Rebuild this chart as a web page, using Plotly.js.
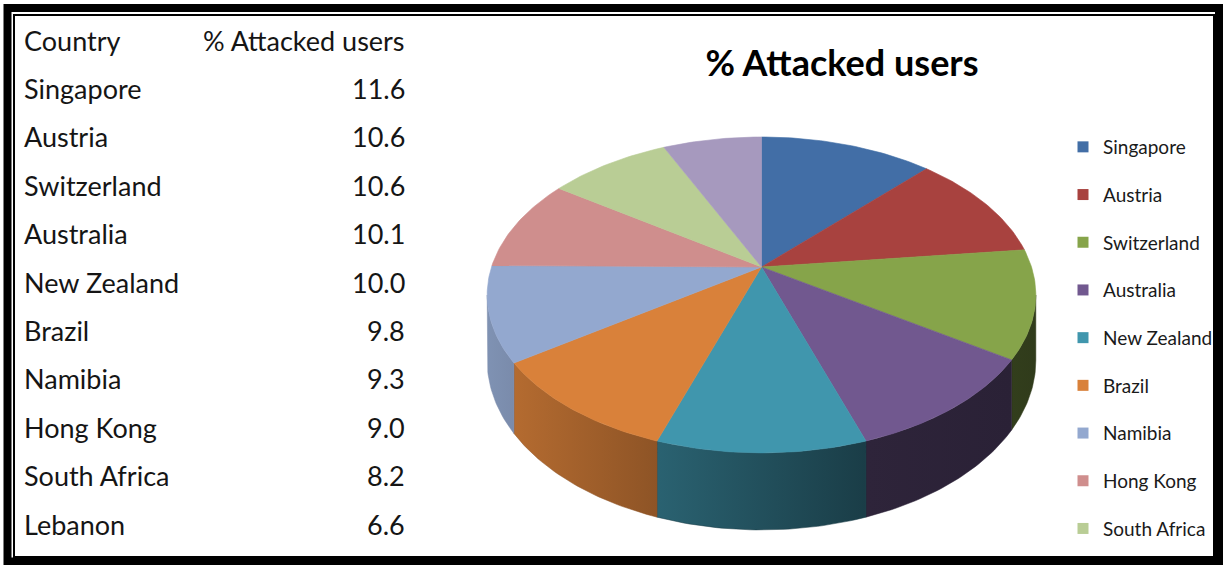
<!DOCTYPE html>
<html><head><meta charset="utf-8">
<script src="https://cdn.plot.ly/plotly-3.0.1.min.js"></script>
<style>html,body{margin:0;padding:0;background:#fff}#chart{width:1223px;height:565px}</style>
</head><body><div id="chart"></div>
<script>
// ---- data ----
const countries = ['Singapore','Austria','Switzerland','Australia','New Zealand','Brazil','Namibia','Hong Kong','South Africa','Lebanon'];
const attacked = [11.6, 10.6, 10.6, 10.1, 10.0, 9.8, 9.3, 9.0, 8.2, 6.6];
const headerLabels = ['Country', '% Attacked users'];
const chartTitle = '% Attacked users';
const legendCountries = ['Singapore','Austria','Switzerland','Australia','New Zealand','Brazil','Namibia','Hong Kong','South Africa'];

// ---- style ----
const sliceColors = ['#426EA6','#A8423F','#86A44A','#71588F','#4096AD','#D9813A','#93A8CF','#CF8E8D','#B9CD95','#A699BE'];
const FONT = 'Lato, "Open Sans", sans-serif';
const CX = 761.5, CY = 267, A = 153, B = 270, K = 0.177, D0 = 63.4;
const SIL1 = Math.acos(-K) * 180 / Math.PI, SIL2 = 360 - SIL1;

function proj(th, drop) {
  const r = th * Math.PI / 180, u = Math.sin(r), v = Math.cos(r), s = 1 / (1 + K * v);
  return [CX + B * u * s, CY - A * v * s + drop * s];
}
const shadeStops = [[100,0.36],[160,0.40],[200,0.66],[236,0.83],[262,0.87]];
function shadeFac(th) {
  if (th <= shadeStops[0][0]) return shadeStops[0][1];
  for (let i = 1; i < shadeStops.length; i++) {
    if (th <= shadeStops[i][0]) {
      const [a0, f0] = shadeStops[i-1], [a1, f1] = shadeStops[i];
      return f0 + (f1 - f0) * (th - a0) / (a1 - a0);
    }
  }
  return shadeStops[shadeStops.length-1][1];
}
function shade(hex, f) {
  const n = parseInt(hex.slice(1), 16);
  const r = Math.round(((n >> 16) & 255) * f), g = Math.round(((n >> 8) & 255) * f), b = Math.round((n & 255) * f);
  return `rgb(${r},${g},${b})`;
}
function arc(a, b, drop) {
  const pts = [], n = Math.max(2, Math.ceil(Math.abs(b - a)));
  for (let i = 0; i <= n; i++) pts.push(proj(a + (b - a) * i / n, drop));
  return pts;
}

const total = attacked.reduce((s, v) => s + v, 0);
const starts = [], ends = [];
let cum = 0;
attacked.forEach(v => { starts.push(cum / total * 360); cum += v; ends.push(cum / total * 360); });

const traces = [];
// side walls
countries.forEach((c, i) => {
  const a = Math.max(starts[i], SIL1), b = Math.min(ends[i], SIL2);
  if (a >= b) return;
  const pts = arc(a, b, 0).concat(arc(b, a, D0));
  pts.push(pts[0]);
  const leftC = shade(sliceColors[i], shadeFac(b)), rightC = shade(sliceColors[i], shadeFac(a));
  traces.push({
    type: 'scatter', mode: 'lines', x: pts.map(p => p[0]), y: pts.map(p => p[1]),
    fill: 'toself', fillcolor: rightC,
    fillgradient: {type: 'horizontal', colorscale: [[0, leftC], [1, rightC]]},
    line: {width: 0.5, color: rightC}, showlegend: false, hoverinfo: 'skip', legendgroup: c
  });
});
// top faces
countries.forEach((c, i) => {
  const pts = [[CX, CY]].concat(arc(starts[i], ends[i], 0));
  pts.push([CX, CY]);
  traces.push({
    type: 'scatter', mode: 'lines', x: pts.map(p => p[0]), y: pts.map(p => p[1]),
    fill: 'toself', fillcolor: sliceColors[i], line: {width: 0.6, color: sliceColors[i]},
    name: c, text: c + ': ' + attacked[i].toFixed(1), hoveron: 'fills', hoverinfo: 'text',
    showlegend: false, legendgroup: c
  });
});
// legend entries
countries.forEach((c, i) => {
  traces.push({
    type: 'scatter', mode: 'markers', x: [null], y: [null], name: c,
    marker: {symbol: 'square', size: 11, color: sliceColors[i]},
    showlegend: legendCountries.includes(c), legendgroup: c, hoverinfo: 'skip'
  });
});

// table text
const annotations = [];
const rowY0 = 40, rowStep = 48.4, colX1 = 22, colX2 = 407;
annotations.push({x: colX1, y: rowY0, text: headerLabels[0], xanchor: 'left'});
annotations.push({x: colX2, y: rowY0, text: headerLabels[1], xanchor: 'right'});
countries.forEach((c, i) => {
  const y = rowY0 + rowStep * (i + 1);
  annotations.push({x: colX1, y, text: c, xanchor: 'left'});
  annotations.push({x: colX2, y, text: attacked[i].toFixed(1), xanchor: 'right'});
});
annotations.forEach(a => Object.assign(a, {xref: 'x', yref: 'y', yanchor: 'middle', showarrow: false,
  font: {family: FONT, size: 27, color: '#151515'}}));

const layout = {
  width: 1223, height: 565,
  margin: {l: 0, r: 0, t: 0, b: 0, autoexpand: false},
  paper_bgcolor: '#fff', plot_bgcolor: '#fff',
  title: {text: '<b>' + chartTitle + '</b>', x: 842 / 1223, y: 1 - 63 / 565, xanchor: 'center', yanchor: 'middle',
    font: {family: FONT, size: 36, color: '#000'}, automargin: false},
  xaxis: {range: [0, 1223], visible: false, fixedrange: true},
  yaxis: {range: [565, 0], visible: false, fixedrange: true},
  showlegend: true,
  legend: {x: 1063 / 1223, y: 1 - 128 / 565, xanchor: 'left', yanchor: 'top',
    font: {family: FONT, size: 19, color: '#1a1a1a'}, tracegroupgap: 20, bgcolor: 'rgba(0,0,0,0)'},
  annotations,
  shapes: [
    {type: 'rect', xref: 'x', yref: 'y', x0: 7.5, x1: 1219, y0: 8, y1: 561.5, line: {color: '#000', width: 8}},
    {type: 'rect', xref: 'x', yref: 'y', x0: 14, x1: 1214, y0: 15, y1: 557, line: {color: '#000', width: 2}}
  ]
};
Plotly.newPlot('chart', traces, layout, {displayModeBar: false});
</script>
</body></html>
